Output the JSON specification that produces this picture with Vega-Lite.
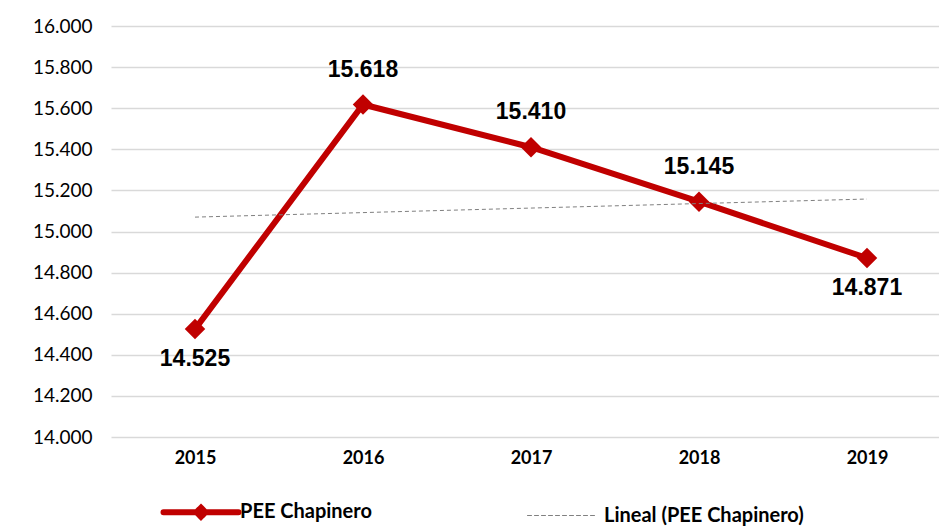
{
  "$schema": "https://vega.github.io/schema/vega-lite/v6.json",
  "width": 840,
  "height": 411,
  "autosize": "none",
  "padding": {"left": 111, "top": 26, "right": 0, "bottom": 94},
  "background": "white",
  "config": {
    "locale": {"number": {"decimal": ",", "thousands": ".", "grouping": [3], "currency": ["$", ""]}},
    "view": {"stroke": null},
    "font": "Lato"
  },
  "data": {
    "values": [
      {"year": "2015", "series": "PEE Chapinero", "value": 14525},
      {"year": "2016", "series": "PEE Chapinero", "value": 15618},
      {"year": "2017", "series": "PEE Chapinero", "value": 15410},
      {"year": "2018", "series": "PEE Chapinero", "value": 15145},
      {"year": "2019", "series": "PEE Chapinero", "value": 14871},
      {"year": "2015", "series": "Lineal (PEE Chapinero)", "value": 15070},
      {"year": "2016", "series": "Lineal (PEE Chapinero)", "value": 15092},
      {"year": "2017", "series": "Lineal (PEE Chapinero)", "value": 15114},
      {"year": "2018", "series": "Lineal (PEE Chapinero)", "value": 15136},
      {"year": "2019", "series": "Lineal (PEE Chapinero)", "value": 15158}
    ]
  },
  "encoding": {
    "x": {
      "field": "year", "type": "ordinal",
      "scale": {"type": "point", "padding": 0.5},
      "axis": {"title": null, "labelAngle": 0, "labelFontWeight": "bold", "labelFontSize": 18, "labelColor": "#000000", "labelPadding": 12, "domain": false, "ticks": false, "grid": false}
    },
    "y": {
      "field": "value", "type": "quantitative",
      "scale": {"domain": [14000, 16000], "nice": false, "zero": false},
      "axis": {"title": null, "values": [14000, 14200, 14400, 14600, 14800, 15000, 15200, 15400, 15600, 15800, 16000], "format": ",.0f", "labelFontSize": 19, "labelColor": "#000000", "labelPadding": 19, "domain": false, "ticks": false, "grid": true, "gridColor": "#d9d9d9", "gridWidth": 1.3}
    }
  },
  "layer": [
    {
      "transform": [{"filter": {"field": "series", "equal": "PEE Chapinero"}}],
      "mark": {"type": "line", "strokeWidth": 6, "strokeJoin": "miter"},
      "encoding": {
        "color": {
          "field": "series", "type": "nominal",
          "scale": {"domain": ["PEE Chapinero", "Lineal (PEE Chapinero)"], "range": ["#C00000", "#808080"]},
          "legend": {
            "title": null, "orient": "none", "legendX": 80, "legendY": 476, "direction": "horizontal", "padding": 0,
            "labelFont": "Lato", "labelFontWeight": "bold", "labelFontSize": 20, "labelColor": "#000000",
            "labelOffset": 29, "columnPadding": 153, "labelLimit": 400,
            "encode": {
              "symbols": {
                "update": {
                  "shape": {"signal": "datum.value === 'PEE Chapinero' ? 'M-1,0H1M0,-0.12L0.12,0L0,0.12L-0.12,0Z' : 'M-1,0H0.79'"},
                  "strokeWidth": {"signal": "datum.value === 'PEE Chapinero' ? 6 : 1"},
                  "stroke": {"signal": "datum.value === 'PEE Chapinero' ? '#C00000' : '#808080'"},
                  "fill": {"signal": "datum.value === 'PEE Chapinero' ? '#C00000' : 'transparent'"},
                  "strokeDash": {"signal": "datum.value === 'PEE Chapinero' ? [1, 0] : [4, 3]"},
                  "strokeCap": {"value": "round"},
                  "size": {"value": 5625},
                  "opacity": {"value": 1}
                }
              }
            }
          }
        }
      }
    },
    {
      "transform": [{"filter": {"field": "series", "equal": "PEE Chapinero"}}],
      "mark": {"type": "point", "shape": "diamond", "filled": true, "size": 420, "color": "#C00000", "opacity": 1}
    },
    {
      "transform": [{"filter": {"field": "series", "equal": "Lineal (PEE Chapinero)"}}],
      "mark": {"type": "line", "strokeWidth": 1, "strokeDash": [4, 3]},
      "encoding": {
        "color": {"field": "series", "type": "nominal"}
      }
    },
    {
      "transform": [
        {"filter": {"field": "series", "equal": "PEE Chapinero"}},
        {"filter": {"field": "year", "oneOf": ["2016", "2017", "2018"]}}
      ],
      "mark": {"type": "text", "font": "Liberation Sans", "fontWeight": "bold", "fontSize": 23, "dy": -35, "baseline": "middle", "color": "#000000"},
      "encoding": {"text": {"field": "value", "type": "quantitative", "format": ",.0f"}}
    },
    {
      "transform": [
        {"filter": {"field": "series", "equal": "PEE Chapinero"}},
        {"filter": {"field": "year", "oneOf": ["2015", "2019"]}}
      ],
      "mark": {"type": "text", "font": "Liberation Sans", "fontWeight": "bold", "fontSize": 23, "dy": 30, "baseline": "middle", "color": "#000000"},
      "encoding": {"text": {"field": "value", "type": "quantitative", "format": ",.0f"}}
    }
  ]
}
